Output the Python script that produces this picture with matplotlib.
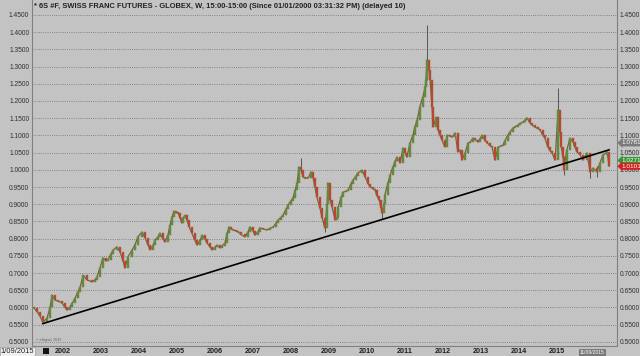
import matplotlib

matplotlib.use("Agg")
import matplotlib.pyplot as plt
import numpy as np

plt.rcParams["font.family"] = ["Liberation Sans", "DejaVu Sans"]

# weekly chart: bar dates (fractional years) and closes
dates = [
    2001.24, 2001.32, 2001.39, 2001.47, 2001.58, 2001.66, 2001.71, 2001.79, 2001.87, 2001.97,
    2002.05, 2002.11, 2002.18, 2002.24, 2002.32, 2002.39, 2002.45, 2002.53, 2002.63, 2002.76,
    2002.84, 2002.89, 2002.97, 2003.05, 2003.13, 2003.18, 2003.26, 2003.32, 2003.42, 2003.50,
    2003.58, 2003.63, 2003.71, 2003.82, 2003.89, 2003.97, 2004.08, 2004.16, 2004.24, 2004.29,
    2004.37, 2004.42, 2004.50, 2004.55, 2004.63, 2004.68, 2004.76, 2004.82, 2004.87, 2004.92,
    2004.97, 2005.03, 2005.08, 2005.13, 2005.16, 2005.21, 2005.26, 2005.32, 2005.39, 2005.47,
    2005.53, 2005.61, 2005.66, 2005.74, 2005.79, 2005.87, 2005.92, 2006.00, 2006.05, 2006.13,
    2006.18, 2006.26, 2006.32, 2006.37, 2006.42, 2006.47, 2006.55, 2006.61, 2006.68, 2006.79,
    2006.87, 2006.92, 2007.00, 2007.05, 2007.13, 2007.18, 2007.26, 2007.37, 2007.45, 2007.53,
    2007.61, 2007.66, 2007.74, 2007.79, 2007.87, 2007.92, 2008.00, 2008.05, 2008.11, 2008.16,
    2008.21, 2008.26, 2008.32, 2008.37, 2008.45, 2008.53, 2008.58, 2008.63, 2008.68, 2008.76,
    2008.82, 2008.89, 2008.95, 2008.97, 2009.03, 2009.08, 2009.16, 2009.21, 2009.24, 2009.32,
    2009.37, 2009.45, 2009.50, 2009.58, 2009.63, 2009.71, 2009.76, 2009.87, 2009.95, 2010.03,
    2010.08, 2010.16, 2010.21, 2010.26, 2010.32, 2010.37, 2010.39, 2010.45, 2010.47, 2010.55,
    2010.61, 2010.68, 2010.74, 2010.79, 2010.87, 2010.95, 2011.00, 2011.05, 2011.13, 2011.21,
    2011.26, 2011.32, 2011.39, 2011.47, 2011.53, 2011.55, 2011.58, 2011.63, 2011.66, 2011.71,
    2011.74, 2011.82, 2011.87, 2011.92, 2011.97, 2012.05, 2012.11, 2012.18, 2012.24, 2012.32,
    2012.39, 2012.45, 2012.50, 2012.58, 2012.66, 2012.71, 2012.79, 2012.84, 2012.92, 2012.97,
    2013.03, 2013.11, 2013.16, 2013.24, 2013.29, 2013.37, 2013.45, 2013.50, 2013.58, 2013.63,
    2013.71, 2013.76, 2013.84, 2013.89, 2013.97, 2014.03, 2014.11, 2014.16, 2014.21, 2014.29,
    2014.34, 2014.42, 2014.50, 2014.55, 2014.63, 2014.68, 2014.76, 2014.82, 2014.87, 2014.95,
    2015.03, 2015.08, 2015.11, 2015.16, 2015.18, 2015.26, 2015.34, 2015.42, 2015.47, 2015.53,
    2015.61, 2015.68, 2015.79, 2015.87, 2015.95, 2016.05, 2016.13, 2016.21, 2016.32, 2016.37,
]
closes = [
    0.598, 0.587, 0.575, 0.557, 0.569, 0.600, 0.636, 0.621, 0.618, 0.613,
    0.600, 0.592, 0.601, 0.612, 0.627, 0.645, 0.659, 0.694, 0.680, 0.674,
    0.680, 0.688, 0.714, 0.744, 0.735, 0.738, 0.755, 0.767, 0.776, 0.761,
    0.735, 0.714, 0.747, 0.767, 0.781, 0.805, 0.819, 0.802, 0.780, 0.767,
    0.780, 0.796, 0.805, 0.816, 0.800, 0.790, 0.810, 0.840, 0.863, 0.880,
    0.875, 0.874, 0.860, 0.845, 0.860, 0.868, 0.854, 0.834, 0.816, 0.795,
    0.781, 0.795, 0.810, 0.798, 0.787, 0.776, 0.767, 0.775, 0.781, 0.773,
    0.778, 0.787, 0.815, 0.834, 0.828, 0.825, 0.822, 0.819, 0.812, 0.805,
    0.820, 0.834, 0.822, 0.810, 0.820, 0.831, 0.828, 0.825, 0.830, 0.834,
    0.845, 0.854, 0.862, 0.869, 0.885, 0.898, 0.910, 0.918, 0.940, 0.962,
    1.008, 1.000, 0.979, 0.975, 0.976, 0.994, 0.976, 0.950, 0.921, 0.889,
    0.860, 0.831, 0.900, 0.962, 0.912, 0.892, 0.854, 0.860, 0.892, 0.920,
    0.935, 0.938, 0.941, 0.960, 0.970, 0.982, 0.991, 0.999, 0.979, 0.960,
    0.950, 0.945, 0.941, 0.925, 0.912, 0.890, 0.874, 0.900, 0.927, 0.962,
    0.985, 1.008, 1.025, 1.037, 1.020, 1.063, 1.050, 1.037, 1.078, 1.101,
    1.125, 1.145, 1.183, 1.212, 1.240, 1.261, 1.319, 1.290, 1.261, 1.183,
    1.124, 1.153, 1.116, 1.100, 1.087, 1.066, 1.101, 1.098, 1.095, 1.107,
    1.052, 1.058, 1.028, 1.049, 1.078, 1.080, 1.092, 1.088, 1.081, 1.090,
    1.101, 1.085, 1.078, 1.070, 1.066, 1.028, 1.066, 1.068, 1.072, 1.085,
    1.101, 1.110, 1.121, 1.125, 1.130, 1.135, 1.139, 1.145, 1.151, 1.136,
    1.130, 1.124, 1.120, 1.116, 1.100, 1.092, 1.066, 1.055, 1.049, 1.028,
    1.174, 1.110, 1.066, 1.037, 0.999, 1.058, 1.092, 1.081, 1.065, 1.052,
    1.043, 1.028, 1.049, 0.994, 1.005, 0.994, 1.020, 1.043, 1.052, 1.010,
]

# the long shadows that stand out
wick_dates = [2008.26, 2008.89, 2010.39, 2011.58, 2015.03, 2015.18, 2015.87, 2016.05]
wick_lows = [0.995, 0.818, 0.858, 1.260, 1.030, 0.985, 0.975, 0.978]
wick_highs = [1.034, 0.860, 0.890, 1.421, 1.238, 1.040, 1.030, 1.010]

trend_dates = [2001.47, 2016.37]
trend_vals = [0.553, 1.058]

year_ticks = list(range(2002, 2016))
price_ticks = np.round(np.arange(0.50, 1.4501, 0.05), 2)

tag_vals = [1.0781, 1.0271, 1.0101]
tag_colors = ["#7a7a7a", "#2f9a2f", "#d42020"]

title = ("* 6S #F, SWISS FRANC FUTURES - GLOBEX, W, 15:00-15:00 "
         "(Since 01/01/2000 03:31:32 PM) (delayed 10)")

bg = "#c3c3c3"
fig = plt.figure(figsize=(6.4, 3.56), dpi=100, facecolor=bg)
ax = fig.add_axes([32 / 640, 10 / 356, 585 / 640, 346 / 356], facecolor=bg)

ax.set_xlim(2001.184, 2016.579)
ax.set_ylim(0.4878, 1.4936)

for p in price_ticks:
    ax.axhline(p, color="#707070", lw=0.6, ls=(0, (1.0, 1.6)), zorder=1)

# candles: open is the previous close
opens = [closes[0]] + closes[:-1]
ax.plot(dates, closes, color="#7a6038", lw=0.9, zorder=2)
ax.vlines(wick_dates, wick_lows, wick_highs, color="#555555", lw=0.7, zorder=2)
for d, o, c in zip(dates, opens, closes):
    col = "#4a9a40" if c >= o else "#cc3a30"
    lo, hi = min(o, c), max(o, c)
    ax.bar(d, max(hi - lo, 0.003), bottom=lo, width=0.045, color=col,
           edgecolor="#8a6a3a", linewidth=0.3, zorder=3)

ax.plot(trend_dates, trend_vals, color="black", lw=1.2, zorder=4)

ax.spines["top"].set_visible(False)
for s in ["left", "right", "bottom"]:
    ax.spines[s].set_color("#808080")
    ax.spines[s].set_linewidth(0.8)

ax.set_yticks(price_ticks)
ax.set_yticklabels([f"{p:.4f}" for p in price_ticks])
ax.tick_params(axis="y", length=0, labelsize=4.8, labelcolor="#303030",
               labelleft=True, labelright=True, pad=2)
ax.set_xticks(year_ticks)
ax.set_xticklabels([str(y) for y in year_ticks], fontweight="bold")
ax.tick_params(axis="x", length=0, labelsize=5.2, labelcolor="#202020", pad=1.5)

ax.text(0.004, 0.992, title, transform=ax.transAxes, ha="left", va="top",
        fontsize=5.4, fontweight="bold", color="#222222")
ax.text(0.006, 0.012, "© eSignal, 2015", transform=ax.transAxes, fontsize=2.5,
        color="#606060", ha="left", va="bottom")

# last price tags on the right scale
for v, c in zip(tag_vals, tag_colors):
    ax.annotate(f"{v:.4f}", xy=(1.0, v), xycoords=("axes fraction", "data"),
                xytext=(3, 0), textcoords="offset points", ha="left", va="center",
                fontsize=4.6, color="white", annotation_clip=False, zorder=6,
                bbox=dict(boxstyle="larrow,pad=0.15", fc=c, ec="none"))

# cursor date boxes on the time scale
fig.text(0.001, 0.003, "1/09/2015", ha="left", va="bottom", fontsize=5.4,
         color="#202020", bbox=dict(boxstyle="square,pad=0.15", fc="#f0f0f0", ec="#909090", lw=0.4))
fig.text(580 / 640, 0.004, "11/09/2015", ha="left", va="bottom", fontsize=3.6,
         color="white", bbox=dict(boxstyle="square,pad=0.2", fc="#7a7a7a", ec="none"))
fig.patches.append(plt.Rectangle((43 / 640, 2 / 356), 6 / 640, 6 / 356,
                                 transform=fig.transFigure, fc="#151515", ec="none"))

fig.savefig("out.png", dpi=100, facecolor=bg)
